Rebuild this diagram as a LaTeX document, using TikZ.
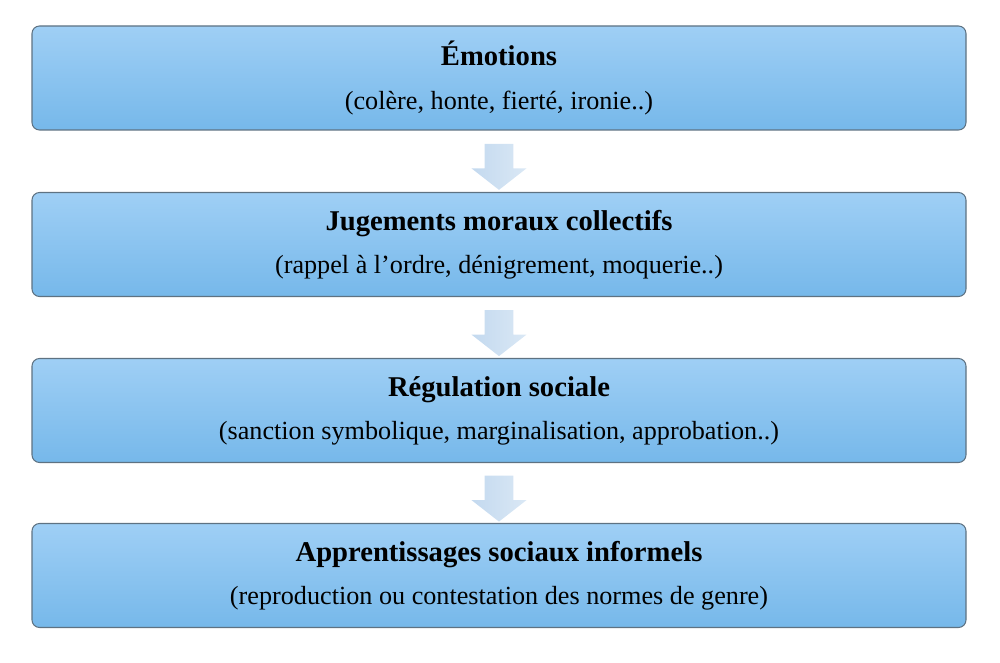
\documentclass[tikz,border=0pt]{standalone}
\usepackage{fontspec}
\setmainfont{Liberation Serif}
\usepackage{xcolor}
\usetikzlibrary{shapes.arrows}

\definecolor{boxtop}{HTML}{9FCFF5}
\definecolor{boxbot}{HTML}{76B8EA}
\definecolor{boxline}{HTML}{5E7282}
\definecolor{arrtop}{HTML}{DAE8F5}
\definecolor{arrbot}{HTML}{C3D9EF}

\newcommand{\stagetitle}[1]{{\fontsize{16.3}{24}\selectfont\bfseries #1}}

\tikzset{
  stage/.style={draw=boxline, line width=0.6pt, rounded corners=0.15cm,
    top color=boxtop, bottom color=boxbot, minimum width=18.68cm,
    minimum height=2.08cm, align=center, font=\fontsize{14.9}{24.5}\selectfont},
  flow/.style={single arrow, rotate=-90, inner xsep=0pt, inner ysep=0.28cm,
    minimum height=0.92cm, single arrow head extend=0.26cm,
    single arrow tip angle=104, top color=arrtop, bottom color=arrbot,
    shading angle=-90, draw=none}
}

\begin{document}
\begin{tikzpicture}
    \useasboundingbox (0,0) rectangle (20,13.24);

    % the four stages
    \node[stage] (emo) at (9.98,11.68) {\stagetitle{Émotions}\\(colère, honte, fierté, ironie..)};
    \node[stage] (jug) at (9.98,8.35) {\stagetitle{Jugements moraux collectifs}\\(rappel à l’ordre, dénigrement, moquerie..)};
    \node[stage] (reg) at (9.98,5.03) {\stagetitle{Régulation sociale}\\(sanction symbolique, marginalisation, approbation..)};
    \node[stage] (app) at (9.98,1.73) {\stagetitle{Apprentissages sociaux informels}\\(reproduction ou contestation des normes de genre)};

    % arrows between stages
    \path (emo.south) -- (jug.north) node[flow, midway] (a1) {};
    \path (jug.south) -- (reg.north) node[flow, midway] (a2) {};
    \path (reg.south) -- (app.north) node[flow, midway] (a3) {};
\end{tikzpicture}
\end{document}
